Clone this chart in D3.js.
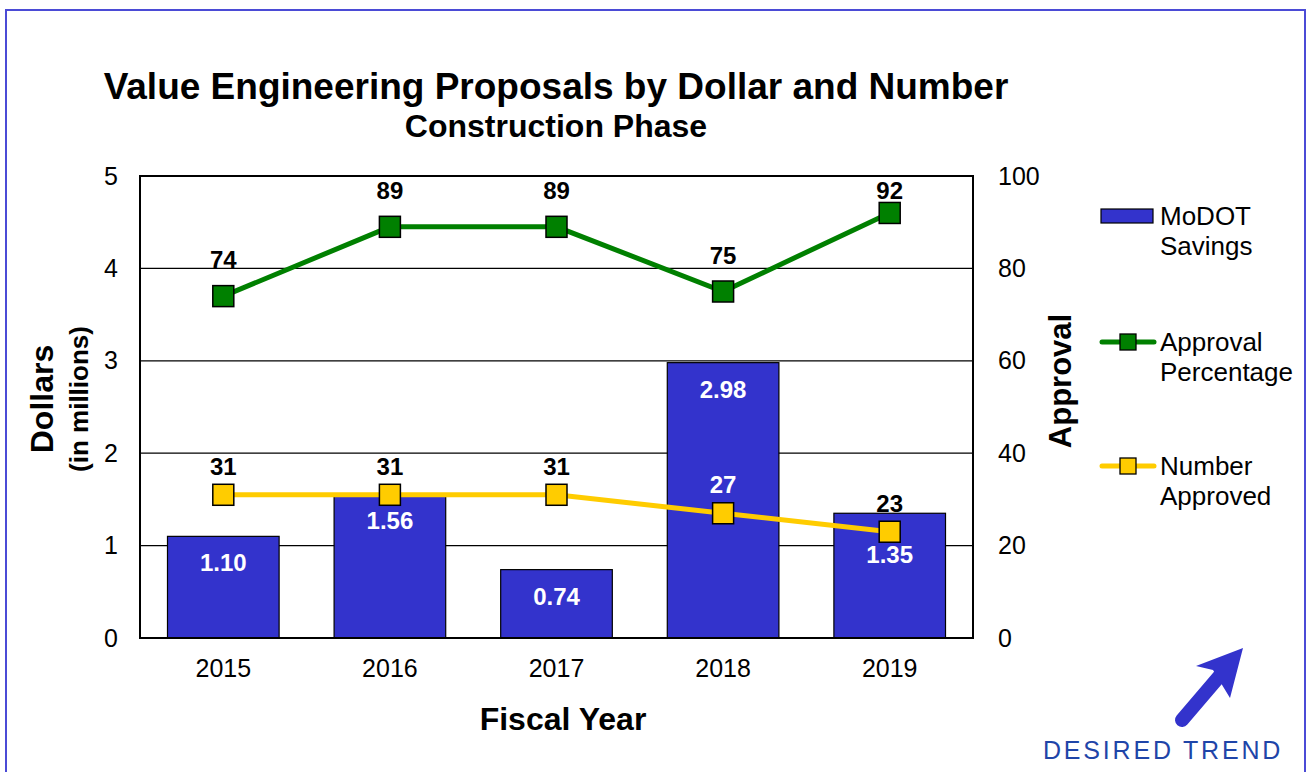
<!DOCTYPE html>
<meta charset="utf-8">
<style>
body { margin: 0; background: #fff; }
text { font-family: Arial, "Liberation Sans", sans-serif; }
</style>
<body>
<script src="https://cdn.jsdelivr.net/npm/d3@7"></script>
<script>

var width = 1311,
    height = 772;

// data
var years = ["2015", "2016", "2017", "2018", "2019"];
var savings = [1.10, 1.56, 0.74, 2.98, 1.35];
var approvalPct = [74, 89, 89, 75, 92];
var numberApproved = [31, 31, 31, 27, 23];
var leftTicks = [0, 1, 2, 3, 4, 5];
var rightTicks = [0, 20, 40, 60, 80, 100];

var blue = "#3333cc",
    green = "#008000",
    yellow = "#ffcc00";

var plot = {left: 140, right: 973, top: 176, bottom: 638};

var svg = d3.select("body").append("svg")
    .attr("width", width)
    .attr("height", height);

// outer frame
svg.append("rect")
    .attr("x", 6).attr("y", 10)
    .attr("width", 1299).attr("height", 780)
    .attr("fill", "none")
    .attr("stroke", "#4b4bd6")
    .attr("stroke-width", 2);

var x = d3.scaleBand()
    .domain(years)
    .range([plot.left, plot.right])
    .paddingInner(0.33)
    .paddingOuter(0.165);

var y = d3.scaleLinear().domain([0, 5]).range([plot.bottom, plot.top]);
var y2 = d3.scaleLinear().domain([0, 100]).range([plot.bottom, plot.top]);

var cx = i => x(years[i]) + x.bandwidth() / 2;
var markerSize = 21;

// gridlines
svg.append("g")
  .selectAll("line")
  .data(leftTicks.slice(1, -1))
  .join("line")
    .attr("x1", plot.left).attr("x2", plot.right)
    .attr("y1", d => y(d)).attr("y2", d => y(d))
    .attr("stroke", "#000")
    .attr("stroke-width", 1.3);

// bars
svg.append("g")
  .selectAll("rect")
  .data(savings)
  .join("rect")
    .attr("x", (d, i) => x(years[i]))
    .attr("y", d => y(d))
    .attr("width", x.bandwidth())
    .attr("height", d => y(0) - y(d))
    .attr("fill", blue)
    .attr("stroke", "#000")
    .attr("stroke-width", 1.2);

// plot border
svg.append("rect")
    .attr("x", plot.left).attr("y", plot.top)
    .attr("width", plot.right - plot.left)
    .attr("height", plot.bottom - plot.top)
    .attr("fill", "none")
    .attr("stroke", "#000")
    .attr("stroke-width", 2);

// bar labels, pushed below the yellow marker when they would collide
svg.append("g")
  .selectAll("text")
  .data(savings)
  .join("text")
    .attr("x", (d, i) => cx(i))
    .attr("y", function(d, i) {
      var base = y(d) + 35,
          my = y2(numberApproved[i]);
      if (base > my - markerSize / 2 && base - 18 < my + markerSize / 2) base = my + 31;
      return base;
    })
    .attr("text-anchor", "middle")
    .attr("fill", "#fff")
    .attr("font-weight", "bold")
    .attr("font-size", 24)
    .text(d => d.toFixed(2));

function series(values, color, labelOffset) {
  var line = d3.line()
      .x((d, i) => cx(i))
      .y(d => y2(d));

  svg.append("path")
      .datum(values)
      .attr("fill", "none")
      .attr("stroke", color)
      .attr("stroke-width", 5)
      .attr("d", line);

  svg.append("g")
    .selectAll("rect")
    .data(values)
    .join("rect")
      .attr("x", (d, i) => cx(i) - markerSize / 2)
      .attr("y", d => y2(d) - markerSize / 2)
      .attr("width", markerSize).attr("height", markerSize)
      .attr("fill", color)
      .attr("stroke", "#000")
      .attr("stroke-width", 1.5);

  // labels stay inside the plot area
  var ly = d => Math.max(y2(d) + labelOffset, plot.top + 23);

  svg.append("g")
    .selectAll("text")
    .data(values)
    .join("text")
      .attr("x", (d, i) => cx(i))
      .attr("y", ly)
      .attr("text-anchor", "middle")
      .attr("font-weight", "bold")
      .attr("font-size", 24)
      // white when the label sits inside a bar
      .attr("fill", (d, i) => ly(d) - 18 > y(savings[i]) ? "#fff" : "#000")
      .text(d => d);
}

series(approvalPct, green, -28);
series(numberApproved, yellow, -20);

// axes
var leftAxis = svg.append("g")
    .attr("transform", "translate(" + plot.left + ",0)")
    .call(d3.axisLeft(y).tickValues(leftTicks).tickFormat(d3.format("d")).tickSize(0).tickPadding(22));

var rightAxis = svg.append("g")
    .attr("transform", "translate(" + plot.right + ",0)")
    .call(d3.axisRight(y2).tickValues(rightTicks).tickSize(0).tickPadding(25));

var bottomAxis = svg.append("g")
    .attr("transform", "translate(0," + plot.bottom + ")")
    .call(d3.axisBottom(x).tickSize(0).tickPadding(21));

[leftAxis, rightAxis, bottomAxis].forEach(function(g) {
  g.select(".domain").remove();
  g.selectAll("text")
      .attr("font-size", 25)
      .attr("fill", "#000")
      .attr("font-family", "Arial, 'Liberation Sans', sans-serif");
});

// titles
svg.append("text")
    .attr("x", 556).attr("y", 99)
    .attr("text-anchor", "middle")
    .attr("font-weight", "bold")
    .attr("font-size", 37)
    .text("Value Engineering Proposals by Dollar and Number");

svg.append("text")
    .attr("x", 556).attr("y", 137)
    .attr("text-anchor", "middle")
    .attr("font-weight", "bold")
    .attr("font-size", 32)
    .text("Construction Phase");

svg.append("text")
    .attr("x", 563).attr("y", 730)
    .attr("text-anchor", "middle")
    .attr("font-weight", "bold")
    .attr("font-size", 32)
    .text("Fiscal Year");

svg.append("text")
    .attr("transform", "translate(53,399) rotate(-90)")
    .attr("text-anchor", "middle")
    .attr("font-weight", "bold")
    .attr("font-size", 32)
    .text("Dollars");

svg.append("text")
    .attr("transform", "translate(88,399) rotate(-90)")
    .attr("text-anchor", "middle")
    .attr("font-weight", "bold")
    .attr("font-size", 26)
    .text("(in millions)");

svg.append("text")
    .attr("transform", "translate(1071,381) rotate(-90)")
    .attr("text-anchor", "middle")
    .attr("font-weight", "bold")
    .attr("font-size", 31)
    .text("Approval");

// legend
var legendItems = [
  {type: "bar", color: blue, lines: ["MoDOT", "Savings"], y: 216},
  {type: "line", color: green, lines: ["Approval", "Percentage"], y: 342},
  {type: "line", color: yellow, lines: ["Number", "Approved"], y: 466}
];

var legend = svg.append("g")
  .selectAll("g")
  .data(legendItems)
  .join("g")
    .attr("transform", d => "translate(1100," + d.y + ")");

legend.filter(d => d.type === "bar").append("rect")
    .attr("x", 1).attr("y", -7)
    .attr("width", 52).attr("height", 14)
    .attr("fill", d => d.color)
    .attr("stroke", "#000")
    .attr("stroke-width", 1.2);

legend.filter(d => d.type === "line").append("line")
    .attr("x1", 2).attr("x2", 54)
    .attr("stroke", d => d.color)
    .attr("stroke-width", 5)
    .attr("stroke-linecap", "round");

legend.filter(d => d.type === "line").append("rect")
    .attr("x", 20).attr("y", -8)
    .attr("width", 16).attr("height", 16)
    .attr("fill", d => d.color)
    .attr("stroke", "#000")
    .attr("stroke-width", 1.3);

legend.each(function(d) {
  var t = d3.select(this).append("text")
      .attr("x", 60).attr("y", 9)
      .attr("font-size", 26);
  d.lines.forEach(function(s, i) {
    t.append("tspan").attr("x", 60).attr("dy", i ? 30 : 0).text(s);
  });
});

// desired trend arrow
var arrow = svg.append("g").attr("fill", blue);
arrow.append("line")
    .attr("x1", 1182).attr("y1", 720)
    .attr("x2", 1223).attr("y2", 672)
    .attr("stroke", blue)
    .attr("stroke-width", 14)
    .attr("stroke-linecap", "round");
arrow.append("path")
    .attr("d", "M1243,648 L1196,666 L1213,670 L1230,698 Z");

svg.append("text")
    .attr("x", 1043).attr("y", 759)
    .attr("font-size", 25)
    .attr("letter-spacing", 2.8)
    .attr("fill", "#1f45a8")
    .attr("font-family", "'Open Sans', Roboto, sans-serif")
    .text("DESIRED TREND");

</script>
